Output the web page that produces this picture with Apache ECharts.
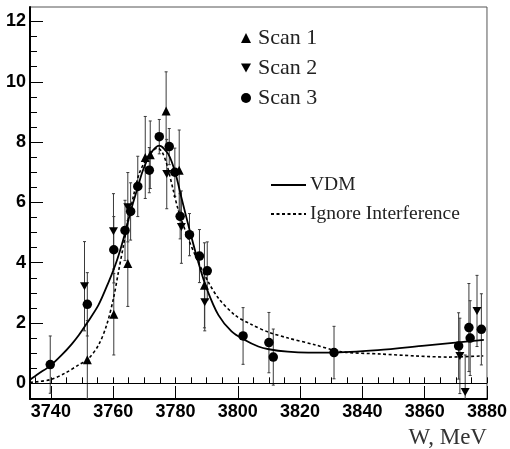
<!DOCTYPE html>
<html>
<head>
<meta charset="utf-8">
<script src="https://cdn.jsdelivr.net/npm/echarts@6/dist/echarts.min.js"></script>
<style>
  html, body { margin: 0; padding: 0; background: #fff; }
  #chart { width: 510px; height: 449px; }
</style>
</head>
<body>
<div id="chart"></div>
<script>
// [W (MeV), value, error]
const scan1 = [
  [3751.7, 0.78, 1.3],
  [3760.2, 2.29, 1.35],
  [3764.7, 3.97, 1.42],
  [3770.3, 7.49, 1.36],
  [3771.9, 7.58, 1.12],
  [3777.0, 9.03, 1.3],
  [3781.2, 7.07, 1.33],
  [3789.3, 3.25, 1.41]
];
const scan2 = [
  [3750.8, 3.22, 1.48],
  [3760.1, 5.04, 1.25],
  [3764.7, 5.84, 1.15],
  [3777.2, 6.94, 1.15],
  [3781.9, 5.18, 1.2],
  [3789.4, 2.69, 0.95],
  [3871.3, 0.91, 1.25],
  [3873.0, -0.29, 1.23],
  [3876.8, 2.40, 1.18]
];
const scan3 = [
  [3739.8, 0.62, 0.95],
  [3751.7, 2.62, 1.05],
  [3760.2, 4.43, 1.1],
  [3763.8, 5.07, 1.0],
  [3765.6, 5.70, 0.95],
  [3767.9, 6.53, 1.0],
  [3771.6, 7.07, 0.75],
  [3774.8, 8.18, 0.57],
  [3778.0, 7.85, 0.6],
  [3779.8, 7.00, 0.8],
  [3781.5, 5.54, 0.75],
  [3784.5, 4.93, 0.7],
  [3787.7, 4.22, 0.88],
  [3790.2, 3.73, 0.96],
  [3801.7, 1.57, 0.94],
  [3810.0, 1.35, 1.0],
  [3811.4, 0.87, 0.93],
  [3830.9, 1.02, 0.87],
  [3870.9, 1.24, 1.1],
  [3874.2, 1.85, 1.46],
  [3874.6, 1.50, 1.24],
  [3878.2, 1.79, 1.18]
];
// fit curves
const vdmCurve = [
  [3733.3, 0.12], [3736.0, 0.32], [3739.8, 0.58], [3743.5, 0.94],
  [3746.7, 1.3], [3749.0, 1.6], [3751.5, 1.98], [3755.3, 2.6],
  [3758.5, 3.35], [3760.6, 3.9], [3762.2, 4.4], [3763.8, 4.98],
  [3765.6, 5.7], [3767.9, 6.5], [3769.5, 7.05], [3771.9, 7.6],
  [3774.8, 7.88], [3777.7, 7.6], [3779.9, 7.0], [3782.0, 6.12],
  [3784.7, 5.02], [3787.3, 4.03], [3790.0, 3.15], [3793.8, 2.26],
  [3798.0, 1.72], [3801.8, 1.46], [3806.6, 1.22], [3810.0, 1.13],
  [3816.0, 1.05], [3822.6, 1.02], [3830.0, 1.02], [3845.0, 1.1],
  [3860.0, 1.25], [3879.0, 1.44]
];
const ignoreCurve = [
  [3733.3, 0.03], [3739.8, 0.12], [3744.6, 0.34], [3748.9, 0.61],
  [3751.9, 0.8], [3755.3, 1.27], [3757.9, 1.93], [3760.1, 2.82],
  [3761.7, 3.7], [3763.3, 4.57], [3764.9, 5.46], [3766.6, 6.25],
  [3768.3, 6.94], [3770.3, 7.38], [3772.5, 7.7], [3774.3, 7.8],
  [3775.8, 7.65], [3777.2, 7.27], [3779.3, 6.4], [3780.9, 5.75],
  [3784.1, 4.8], [3787.3, 4.03], [3790.5, 3.37], [3793.8, 2.82],
  [3799.1, 2.26], [3804.4, 1.95], [3809.8, 1.7], [3816.2, 1.5],
  [3824.7, 1.28], [3833.0, 1.05], [3846.1, 0.97], [3856.8, 0.91],
  [3867.5, 0.87], [3878.8, 0.91]
];
const xMajorTicks = [3740, 3760, 3780, 3800, 3820, 3840, 3860, 3880];
const yMajorTicks = [0, 2, 4, 6, 8, 10, 12];
const xMinorTicks = [];
for (let w = 3735; w <= 3880; w += 5) xMinorTicks.push(w);
const yMinorTicks = [];
for (let v = 0; v <= 12.5; v += 0.5) yMinorTicks.push(v);

const X_MIN = 3733.3, X_MAX = 3880;
const Y_MIN = -0.52, Y_MAX = 12.48;
const downTriangle = 'path://M0,0 L10,0 L5,9 Z';

const chart = echarts.init(document.getElementById('chart'));

function errorBarItem(params, api) {
  const x = api.value(0), y = api.value(1), e = api.value(2);
  const hi = api.coord([x, y + e]);
  const lo = api.coord([x, y - e]);
  const cap = 1.5;
  const style = { stroke: '#3a3a3a', lineWidth: 1 };
  return {
    type: 'group',
    children: [
      { type: 'line', shape: { x1: hi[0], y1: hi[1], x2: lo[0], y2: lo[1] }, style: style },
      { type: 'line', shape: { x1: hi[0] - cap, y1: hi[1], x2: hi[0] + cap, y2: hi[1] }, style: style },
      { type: 'line', shape: { x1: lo[0] - cap, y1: lo[1], x2: lo[0] + cap, y2: lo[1] }, style: style }
    ]
  };
}

function errSeries(name, data) {
  return {
    name: name,
    type: 'custom',
    renderItem: errorBarItem,
    data: data,
    encode: { x: 0, y: 1 },
    clip: true,
    silent: true,
    z: 1
  };
}

const tickFont = { color: '#000', fontSize: 18, fontWeight: 'bold', fontFamily: 'Liberation Sans' };
const plainNumber = function (v) { return String(v); };

const option = {
  animation: false,
  backgroundColor: '#fff',
  grid: {
    left: 30, right: 22, top: 7, bottom: 48,
    show: true, borderColor: '#555', borderWidth: 1, backgroundColor: 'transparent'
  },
  legend: [
    {
      data: ['Scan 1', 'Scan 2', 'Scan 3'],
      orient: 'vertical',
      left: 236, top: 22,
      itemWidth: 10, itemHeight: 10, itemGap: 8,
      textStyle: { fontFamily: 'Liberation Serif', fontSize: 22, color: '#222', padding: [0, 0, 0, 2] },
      selectedMode: false
    },
    {
      data: ['VDM', 'Ignore Interference'],
      orient: 'vertical',
      left: 265, top: 170,
      itemWidth: 35, itemHeight: 12, itemGap: 9,
      itemStyle: { color: 'rgba(0,0,0,0)', borderWidth: 0, opacity: 0 },
      textStyle: { fontFamily: 'Liberation Serif', fontSize: 19.5, color: '#222', padding: [0, 0, 0, -1] },
      selectedMode: false
    }
  ],
  xAxis: [
    {
      type: 'value', min: X_MIN, max: X_MAX, position: 'bottom',
      name: 'W, MeV', nameLocation: 'end', nameGap: 0,
      nameTextStyle: {
        fontFamily: 'Liberation Serif', fontSize: 23, color: '#333',
        align: 'right', verticalAlign: 'top', padding: [27, 0, 0, 0]
      },
      axisLine: { show: true, onZero: false, lineStyle: { color: '#000', width: 2 } },
      axisTick: { show: true, inside: true, length: 13, customValues: xMajorTicks, lineStyle: { color: '#000', width: 1 } },
      axisLabel: Object.assign({ customValues: xMajorTicks, margin: 4, formatter: plainNumber }, tickFont),
      splitLine: { show: false }
    },
    {
      type: 'value', min: X_MIN, max: X_MAX, position: 'bottom',
      axisLine: { show: false },
      axisTick: { show: true, inside: true, length: 6, customValues: xMinorTicks, lineStyle: { color: '#000', width: 1 } },
      axisLabel: { show: false },
      splitLine: { show: false }
    }
  ],
  yAxis: [
    {
      type: 'value', min: Y_MIN, max: Y_MAX, position: 'left',
      axisLine: { show: true, onZero: false, lineStyle: { color: '#000', width: 2 } },
      axisTick: { show: true, inside: true, length: 13, customValues: yMajorTicks, lineStyle: { color: '#000', width: 1 } },
      axisLabel: Object.assign({ customValues: yMajorTicks, margin: 4, formatter: plainNumber }, tickFont),
      splitLine: { show: false }
    },
    {
      type: 'value', min: Y_MIN, max: Y_MAX, position: 'left',
      axisLine: { show: false },
      axisTick: { show: true, inside: true, length: 7, customValues: yMinorTicks, lineStyle: { color: '#000', width: 1 } },
      axisLabel: { show: false },
      splitLine: { show: false }
    }
  ],
  series: [
    errSeries('Scan 1 errors', scan1),
    errSeries('Scan 2 errors', scan2),
    errSeries('Scan 3 errors', scan3),
    {
      name: 'VDM', type: 'line', data: vdmCurve, smooth: 0.3,
      symbol: 'none', showSymbol: false, silent: true, z: 2,
      lineStyle: { color: '#000', width: 1.8 },
      itemStyle: { color: '#000' },
      markLine: {
        silent: true, symbol: 'none', label: { show: false },
        lineStyle: { color: '#000', width: 1, type: 'solid' },
        data: [{ yAxis: 0 }]
      }
    },
    {
      name: 'Ignore Interference', type: 'line', data: ignoreCurve, smooth: 0.3,
      symbol: 'none', showSymbol: false, silent: true, z: 2,
      lineStyle: { color: '#000', width: 1.6, type: [3, 2.5] },
      itemStyle: { color: '#000' }
    },
    {
      name: 'Scan 1', type: 'scatter', data: scan1, symbol: 'triangle', symbolSize: 9,
      itemStyle: { color: '#000', opacity: 1 }, z: 3
    },
    {
      name: 'Scan 2', type: 'scatter', data: scan2, symbol: downTriangle, symbolSize: [9, 8],
      itemStyle: { color: '#000', opacity: 1 }, z: 3
    },
    {
      name: 'Scan 3', type: 'scatter', data: scan3, symbol: 'circle', symbolSize: 9.5,
      itemStyle: { color: '#000', opacity: 1 }, z: 3
    }
  ]
};

chart.setOption(option);
</script>
</body>
</html>
